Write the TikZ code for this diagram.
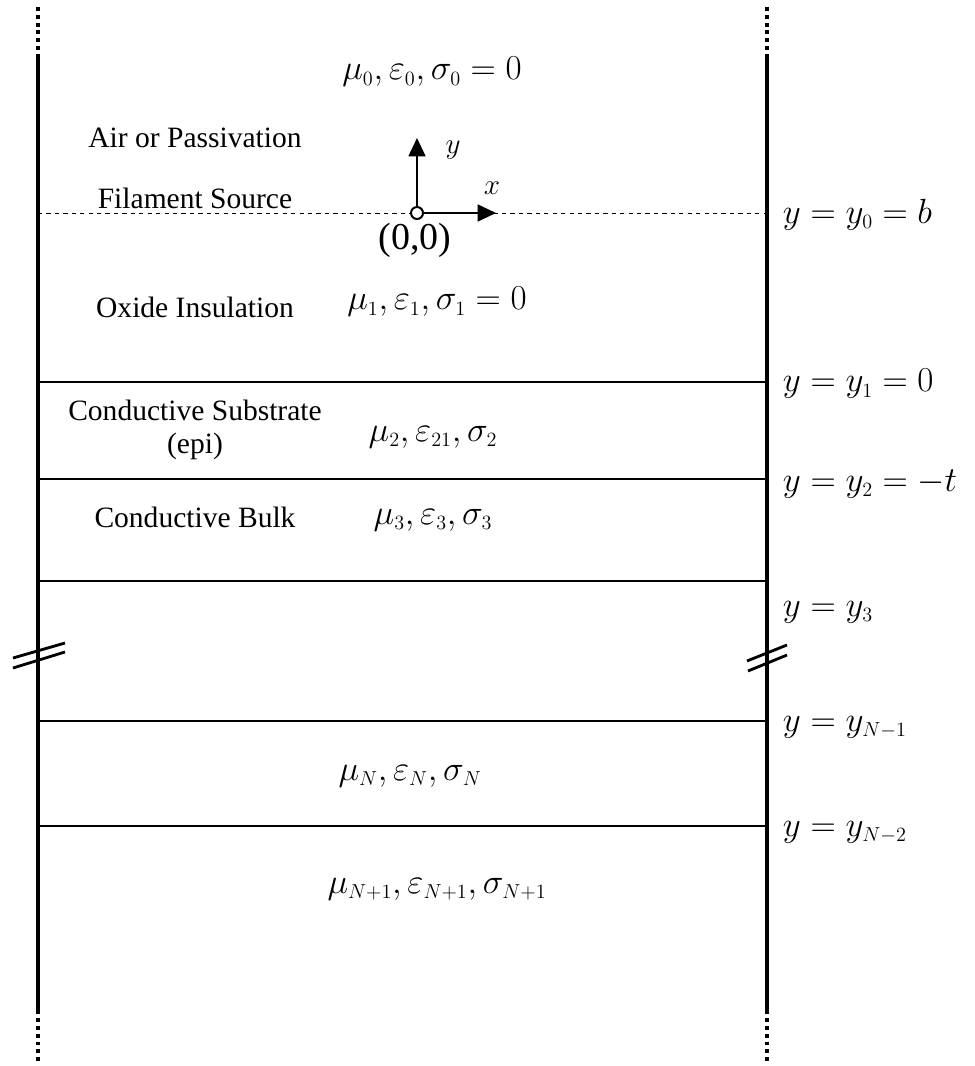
\documentclass[tikz,border=0pt]{standalone}
\usepackage{amsmath,amssymb}
\usepackage{fontspec}
\setmainfont{Liberation Serif}
\usetikzlibrary{arrows.meta,positioning}

\newcommand{\ssub}[1]{_{\scriptscriptstyle #1}}

\tikzset{
  wall/.style={line width=2.8pt},
  wallend/.style={line width=2.8pt, dash pattern=on 2.8pt off 2.8pt},
  layer/.style={line width=2pt},
  brk/.style={line width=2pt},
  lbl/.style={font=\fontsize{21}{25}\selectfont, align=center},
  prm/.style={font=\fontsize{31}{35}\selectfont},
  ylbl/.style={font=\fontsize{30}{34}\selectfont, anchor=west},
  axis/.style={line width=1.4pt, -{Triangle[length=13pt,width=12pt]}}
}

\begin{document}
\begin{tikzpicture}[x=0.025cm, y=-0.025cm]
  \useasboundingbox (0,0) rectangle (974,1066);

  % side walls with dotted ends
  \coordinate (lt) at (38,58);   \coordinate (lb) at (38,1010);
  \coordinate (rt) at (767,58);  \coordinate (rb) at (767,1010);
  \draw[wall] (lt) -- (lb);
  \draw[wall] (rt) -- (rb);
  \draw[wallend] (lt) -- (38,6);
  \draw[wallend] (lb) -- (38,1064);
  \draw[wallend] (rt) -- (767,6);
  \draw[wallend] (rb) -- (767,1064);

  % interfaces
  \draw[dashed, line width=0.7pt] (38,213) -- (767,213);
  \foreach \yy in {382,479,581,721,826}
    \draw[layer] (38,\yy) -- (767,\yy);

  % break marks
  \draw[brk] (13,658) -- (65,643);
  \draw[brk] (13,668) -- (65,652);
  \draw[brk] (747,661) -- (787,645);
  \draw[brk] (748,671) -- (787,655);

  % source and axes
  \node[draw, circle, fill=white, line width=1.4pt, minimum size=0.3cm, inner sep=0pt] (o) at (417,213) {};
  \coordinate (ytip) at (417,138);
  \coordinate (xtip) at (496,213);
  \draw[axis] (o) -- (ytip);
  \draw[axis] (o) -- (xtip);
  \node[font=\fontsize{22}{25}\selectfont] (ylab) at (453,150) {$y$};
  \node[font=\fontsize{22}{25}\selectfont] (xlab) at (492,188) {$x$};
  \node[lbl, font=\fontsize{27}{30}\selectfont] (orig) at (415,240) {(0,0)};

  % layer descriptions
  \node[lbl] (air) at (195,138) {Air or Passivation};
  \node[lbl] (fil) at (195,198) {Filament Source};
  \node[lbl] (oxi) at (195,307) {Oxide Insulation};
  \node[lbl] (sub) at (195,430) {Conductive Substrate\\[-2pt](epi)};
  \node[lbl] (blk) at (195,517) {Conductive Bulk};

  % material parameters
  \node[prm] (p0) at (432,72) {$\mu\ssub{0},\varepsilon\ssub{0},\sigma\ssub{0}=0$};
  \node[prm] (p1) at (437,302) {$\mu\ssub{1},\varepsilon\ssub{1},\sigma\ssub{1}=0$};
  \node[prm] (p2) at (433,437) {$\mu\ssub{2},\varepsilon\ssub{21},\sigma\ssub{2}$};
  \node[prm] (p3) at (433,520) {$\mu\ssub{3},\varepsilon\ssub{3},\sigma\ssub{3}$};
  \node[prm] (pN) at (410,776) {$\mu\ssub{N},\varepsilon\ssub{N},\sigma\ssub{N}$};
  \node[prm] (pN1) at (437,889) {$\mu\ssub{N+1},\varepsilon\ssub{N+1},\sigma\ssub{N+1}$};

  % interface positions
  \node[ylbl] (y0) at (778,215) {$y=y\ssub{0}=b$};
  \node[ylbl] (y1) at (778,384) {$y=y\ssub{1}=0$};
  \node[ylbl] (y2) at (778,484) {$y=y\ssub{2}=-t$};
  \node[ylbl] (y3) at (778,612) {$y=y\ssub{3}$};
  \node[ylbl] (yN1) at (778,727) {$y=y\ssub{N-1}$};
  \node[ylbl] (yN2) at (778,832) {$y=y\ssub{N-2}$};
\end{tikzpicture}
\end{document}
